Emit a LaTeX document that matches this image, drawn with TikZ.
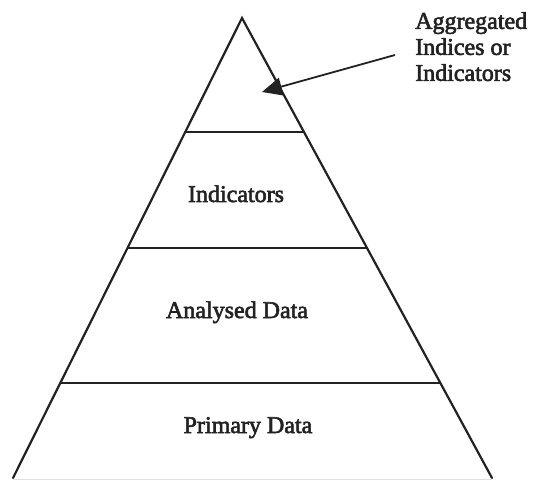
\documentclass[tikz,border=0pt]{standalone}
\usepackage{fontspec}
\setmainfont{Liberation Serif}[FakeBold=2.5]
\usetikzlibrary{arrows.meta,calc}
\definecolor{ink}{HTML}{222222}
\tikzset{
  edge/.style={draw=ink, line width=2.2pt, line cap=round},
  level/.style={draw=ink, line width=2.2pt},
  labeltext/.style={text=ink, font=\fontsize{24}{26}\selectfont},
  label/.style={labeltext, anchor=base, inner sep=0pt},
  pointer/.style={draw=ink, line width=1.8pt, -{Triangle[length=20pt,width=18pt]}}
}
\begin{document}
\begin{tikzpicture}[x=1pt, y=-1pt]
  \useasboundingbox (0,0) rectangle (533,481);
  % pyramid outline
  \coordinate (apex) at (242,18);
  \coordinate (bl) at (13,478);
  \coordinate (br) at (492,478);
  \draw[edge] (bl) -- (apex) -- (br);
  \draw[draw=gray!25, line width=1pt] ([yshift=-1.5pt]bl) -- ([yshift=-1.5pt]br);
  % level dividers
  \foreach \t/\n in {0.2478/a, 0.5/b, 0.7935/c} {
    \coordinate (l\n) at ($(apex)!\t!(bl)$);
    \coordinate (r\n) at ($(apex)!\t!(br)$);
    \draw[level] (l\n) -- (r\n);
  }
  % level labels
  \node[label] (ind) at (236,202) {Indicators};
  \node[label] (ana) at (237,318) {Analysed Data};
  \node[label] (pri) at (248,433) {Primary Data};
  % annotation for the top level
  \node[labeltext, anchor=north west, inner sep=0pt, align=left] (agg) at (415,12)
        {Aggregated\\Indices or\\Indicators};
  \coordinate (from) at (395,55);
  \coordinate (tip) at (262,92);
  \draw[pointer] (from) -- (tip);
\end{tikzpicture}
\end{document}
